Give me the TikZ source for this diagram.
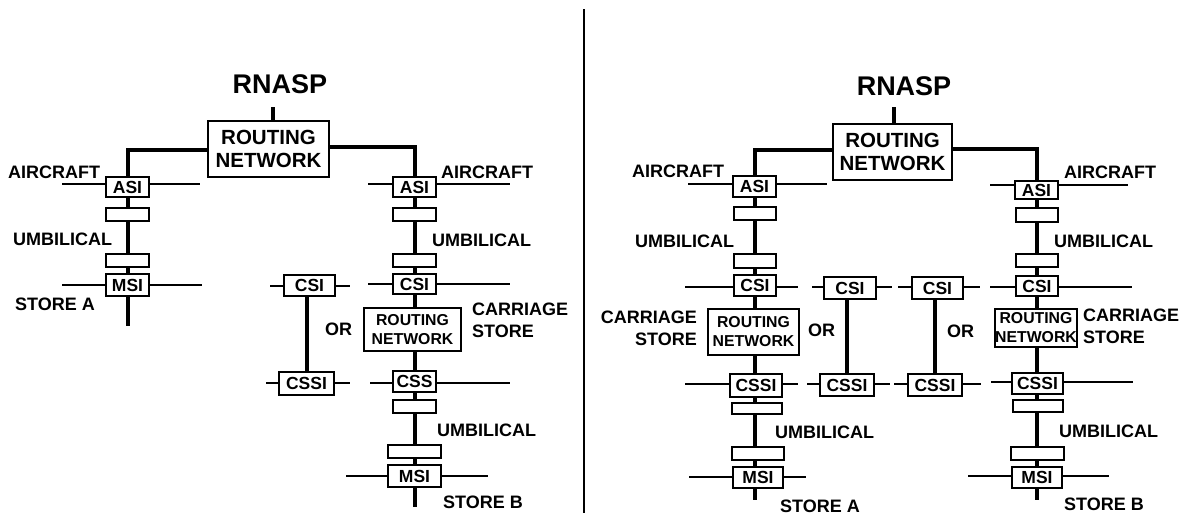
\documentclass[tikz,border=0pt]{standalone}
\usepackage{fontspec}
\setmainfont{Liberation Sans}
\newcommand\bx[7][]{\node[box, minimum width={(#5)-(#3)-1.8}, minimum height={(#6)-(#4)-1.8}, #1] (#2) at ({((#3)+(#5))/2},{((#4)+(#6))/2}) {#7};}
\begin{document}
\begin{tikzpicture}[x=1pt,y=-1pt,
  thk/.style={line width=4pt},
  thn/.style={line width=2pt},
  divider/.style={line width=1.5pt},
  box/.style={draw, fill=white, line width=1.8pt, inner sep=0pt, align=center,
    font=\bfseries\fontsize{17.5}{20}\selectfont},
  bigrn/.style={font=\bfseries\fontsize{20.5}{23}\selectfont},
  smallrn/.style={font=\bfseries\fontsize{15.8}{19}\selectfont},
  lab/.style={inner sep=0pt, font=\bfseries\fontsize{18}{22}\selectfont},
  title/.style={inner sep=0pt, font=\bfseries\fontsize{27}{30}\selectfont}]
\useasboundingbox (0,0) rectangle (1182,514);

% ================= LEFT PANEL =================
\coordinate (tkL) at (273,107);
\coordinate (endL) at (127.5,326);
\coordinate (endLR) at (414.5,507);
% horizontal thin lines
\coordinate (hA1) at (62,184);  \coordinate (hA2) at (200,184);
\coordinate (hM1) at (62,285);  \coordinate (hM2) at (202,285);
\coordinate (hB1) at (368,184); \coordinate (hB2) at (510,184);
\coordinate (hC1) at (368,284); \coordinate (hC2) at (510,284);
\coordinate (hD1) at (370,383); \coordinate (hD2) at (510,383);
\coordinate (hE1) at (346,476); \coordinate (hE2) at (488,476);
\coordinate (hF1) at (270,286); \coordinate (hF2) at (350,286);
\coordinate (hG1) at (266,383); \coordinate (hG2) at (350,383);
\foreach \p in {hA,hM,hB,hC,hD,hE,hF,hG}
  \draw[thn] (\p1) -- (\p2);

\node[title, anchor=base] (rnaspL) at (280,93) {RNASP};
\bx[bigrn]{rnL}{207}{120}{330}{178}{ROUTING\\NETWORK}
\draw[thk] (tkL) -- (tkL |- rnL.north);
\draw[thk] ([yshift=-1pt]rnL.west) -| (endL);
\draw[thk] ([yshift=2pt]rnL.east) -| (endLR);

\bx{asiL}{105}{176}{150}{198}{ASI}
\bx{bL1}{105}{207}{150}{222}{}
\bx{bL2}{105}{253}{150}{268}{}
\bx{msiL}{105}{273}{150}{297}{MSI}

\bx{asiLR}{392}{176}{437}{198}{ASI}
\bx{bLR1}{392}{207}{437}{222}{}
\bx{bLR2}{392}{253}{437}{268}{}
\bx{csiLR}{392}{273}{437}{295}{CSI}
\bx[smallrn]{rnL2}{363}{307}{462}{352}{ROUTING\\NETWORK}
\bx{cssLR}{392}{370}{437}{393}{CSS}
\bx{bLR3}{392}{399}{437}{414}{}
\bx{bLR4}{387}{444}{442}{459}{}
\bx{msiLR}{387}{464}{442}{488}{MSI}

\bx{csiA}{283}{274}{336}{297}{CSI}
\bx{cssiA}{278}{371}{335}{396}{CSSI}
\draw[thk] (csiA.south -| cssiA.north) -- (cssiA.north);

\node[lab, anchor=base west] (acL) at (8,178) {AIRCRAFT};
\node[lab, anchor=base west] (umL) at (13,245) {UMBILICAL};
\node[lab, anchor=base west] (stL) at (15,310) {STORE A};
\node[lab, anchor=base west] (acLR) at (441,178) {AIRCRAFT};
\node[lab, anchor=base west] (umLR) at (432,246) {UMBILICAL};
\node[lab, anchor=base west] (caLR) at (472,315) {CARRIAGE};
\node[lab, anchor=base west] (csLR) at (472,337) {STORE};
\node[lab, anchor=base west] (orL) at (325,335) {OR};
\node[lab, anchor=base west] (umLR2) at (437,436) {UMBILICAL};
\node[lab, anchor=base west] (stLR) at (443,508) {STORE B};

% ================= DIVIDER =================
\coordinate (dv1) at (584,9);
\coordinate (dv2) at (584,513);
\draw[divider] (dv1) -- (dv2);

% ================= RIGHT PANEL =================
\coordinate (tkR) at (894,107);
\coordinate (endRA) at (755,500);
\coordinate (endRB) at (1037,500);
\coordinate (rA1) at (688,184);  \coordinate (rA2) at (827,184);
\coordinate (rB1) at (685,287);  \coordinate (rB2) at (798,287);
\coordinate (rC1) at (685,384);  \coordinate (rC2) at (798,384);
\coordinate (rD1) at (689,477);  \coordinate (rD2) at (806,477);
\coordinate (rE1) at (812,287);  \coordinate (rE2) at (892,287);
\coordinate (rF1) at (807,384);  \coordinate (rF2) at (890,384);
\coordinate (rG1) at (898,287);  \coordinate (rG2) at (980,287);
\coordinate (rH1) at (894,384);  \coordinate (rH2) at (981,384);
\coordinate (rI1) at (990,185);  \coordinate (rI2) at (1128,185);
\coordinate (rJ1) at (990,287);  \coordinate (rJ2) at (1132,287);
\coordinate (rK1) at (991,382);  \coordinate (rK2) at (1133,382);
\coordinate (rL1) at (968,476);  \coordinate (rL2) at (1109,476);
\foreach \p in {rA,rB,rC,rD,rE,rF,rG,rH,rI,rJ,rK,rL}
  \draw[thn] (\p1) -- (\p2);

\node[title, anchor=base] (rnaspR) at (904,95) {RNASP};
\bx[bigrn]{rnR}{832}{123}{953}{181}{ROUTING\\NETWORK}
\draw[thk] (tkR) -- (tkR |- rnR.north);
\draw[thk] ([yshift=2pt]rnR.west) -| (endRA);
\draw[thk] ([yshift=3pt]rnR.east) -| (endRB);

\bx{asiRA}{732}{175}{777}{198}{ASI}
\bx{bRA1}{733}{206}{777}{221}{}
\bx{bRA2}{733}{253}{777}{269}{}
\bx{csiRA}{733}{274}{777}{297}{CSI}
\bx[smallrn]{rnRA}{707}{308}{800}{356}{ROUTING\\NETWORK}
\bx{cssiRA}{729}{373}{783}{398}{CSSI}
\bx{bRA3}{731}{402}{783}{415}{}
\bx{bRA4}{731}{446}{785}{461}{}
\bx{msiRA}{732}{466}{784}{489}{MSI}

\bx{csiB}{823}{276}{877}{300}{CSI}
\bx{cssiB}{819}{373}{875}{397}{CSSI}
\coordinate (vB) at (847,0);
\draw[thk] (csiB.south -| vB) -- (cssiB.north -| vB);
\bx{csiC}{911}{276}{964}{300}{CSI}
\bx{cssiC}{907}{373}{963}{397}{CSSI}
\coordinate (vC) at (934.5,0);
\draw[thk] (csiC.south -| vC) -- (cssiC.north -| vC);

\bx{asiRB}{1014}{180}{1059}{200}{ASI}
\bx{bRB1}{1015}{207}{1059}{223}{}
\bx{bRB2}{1015}{253}{1059}{268}{}
\bx{csiRB}{1015}{275}{1059}{297}{CSI}
\bx[smallrn]{rnRB}{994}{308}{1078}{348}{ROUTING\\NETWORK}
\bx{cssiRB}{1011}{372}{1064}{395}{CSSI}
\bx{bRB3}{1012}{399}{1064}{413}{}
\bx{bRB4}{1010}{446}{1065}{461}{}
\bx{msiRB}{1011}{466}{1063}{489}{MSI}

\node[lab, anchor=base west] (acRA) at (632,177) {AIRCRAFT};
\node[lab, anchor=base west] (umRA) at (635,247) {UMBILICAL};
\node[lab, anchor=base east] (caRA) at (697,323) {CARRIAGE};
\node[lab, anchor=base east] (csRA) at (697,345) {STORE};
\node[lab, anchor=base west] (orB) at (808,336) {OR};
\node[lab, anchor=base west] (orC) at (947,337) {OR};
\node[lab, anchor=base west] (umRA2) at (775,438) {UMBILICAL};
\node[lab, anchor=base west] (stRA) at (780,512) {STORE A};
\node[lab, anchor=base west] (acRB) at (1064,178) {AIRCRAFT};
\node[lab, anchor=base west] (umRB) at (1054,247) {UMBILICAL};
\node[lab, anchor=base west] (caRB) at (1083,321) {CARRIAGE};
\node[lab, anchor=base west] (csRB) at (1083,343) {STORE};
\node[lab, anchor=base west] (umRB2) at (1059,437) {UMBILICAL};
\node[lab, anchor=base west] (stRB) at (1064,510) {STORE B};
\end{tikzpicture}
\end{document}
